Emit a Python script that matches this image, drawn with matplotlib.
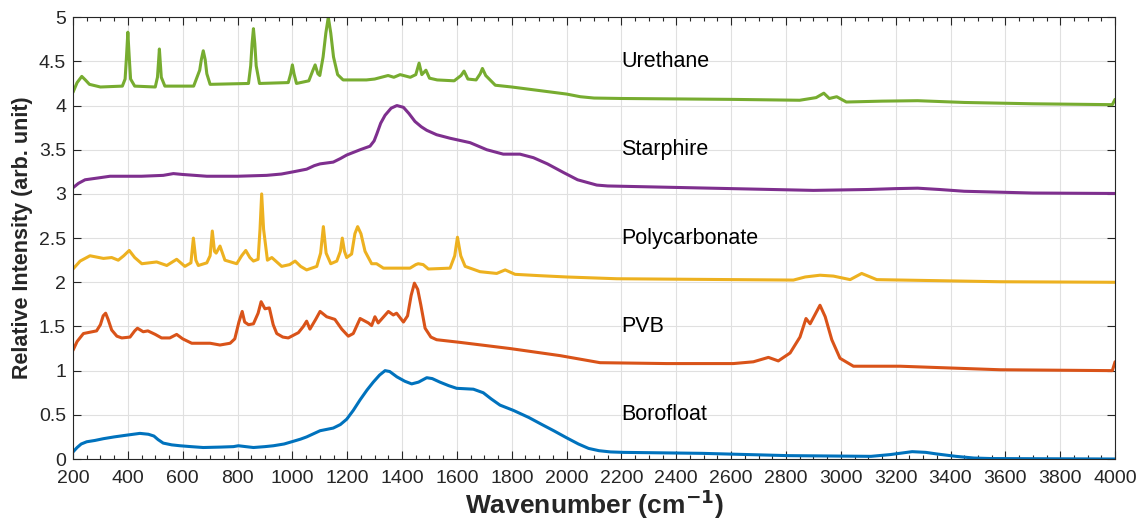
import numpy as np
import matplotlib
matplotlib.use('Agg')
import matplotlib.pyplot as plt
from matplotlib.ticker import MultipleLocator, FuncFormatter

plt.rcParams['font.family'] = ['Liberation Sans', 'DejaVu Sans']

# Espectros (numero de onda em cm-1, intensidade relativa)
boro_x = [200, 215, 230, 250, 280, 311, 350, 396, 444, 475, 495, 510, 529, 560, 590, 630, 675,
          740, 785, 803, 830, 858, 900, 931, 970, 1003, 1030, 1052, 1080, 1101, 1125, 1149, 1175,
          1198, 1222, 1247, 1272, 1295, 1318, 1338, 1355, 1381, 1410, 1435, 1460, 1490, 1510,
          1538, 1570, 1599, 1630, 1660, 1696, 1725, 1757, 1806, 1862, 1910, 1953, 2000, 2043,
          2080, 2118, 2160, 2208, 2494, 2809, 3110, 3180, 3260, 3310, 3350, 3420, 3485, 3550,
          4000]
boro_y = [0.08, 0.13, 0.17, 0.195, 0.21, 0.23, 0.25, 0.27, 0.29, 0.28, 0.26, 0.22, 0.18, 0.16,
          0.15, 0.14, 0.13, 0.135, 0.14, 0.15, 0.14, 0.13, 0.14, 0.15, 0.17, 0.20, 0.225, 0.25,
          0.29, 0.32, 0.335, 0.35, 0.39, 0.45, 0.55, 0.67, 0.78, 0.87, 0.95, 1.00, 0.99, 0.93,
          0.88, 0.85, 0.87, 0.92, 0.91, 0.87, 0.83, 0.80, 0.795, 0.79, 0.75, 0.68, 0.61, 0.55,
          0.47, 0.39, 0.32, 0.24, 0.17, 0.12, 0.094, 0.08, 0.075, 0.064, 0.038, 0.03, 0.05, 0.083,
          0.075, 0.057, 0.03, 0.011, 0.005, 0.0]

pvb_x = [200, 215, 238, 286, 300, 310, 319, 328, 341, 360, 378, 408, 425, 435, 456, 473, 500,
         523, 553, 578, 600, 633, 700, 736, 773, 790, 805, 817, 826, 840, 858, 875, 886, 900,
         916, 930, 943, 965, 985, 1022, 1040, 1052, 1064, 1085, 1101, 1125, 1155, 1180, 1204,
         1222, 1247, 1277, 1289, 1301, 1313, 1350, 1368, 1380, 1405, 1420, 1433, 1445, 1457,
         1468, 1484, 1505, 1526, 1611, 1794, 1976, 2122, 2365, 2608, 2681, 2736, 2772, 2815,
         2851, 2873, 2888, 2924, 2943, 2967, 2997, 3046, 3216, 3581, 3990, 4000]
pvb_y = [1.23, 1.33, 1.42, 1.45, 1.52, 1.62, 1.65, 1.58, 1.46, 1.39, 1.37, 1.38, 1.45, 1.48,
         1.44, 1.45, 1.41, 1.37, 1.37, 1.41, 1.36, 1.31, 1.31, 1.29, 1.31, 1.36, 1.55, 1.67,
         1.55, 1.52, 1.53, 1.65, 1.78, 1.70, 1.71, 1.52, 1.42, 1.38, 1.37, 1.43, 1.50, 1.56,
         1.47, 1.58, 1.67, 1.61, 1.58, 1.47, 1.39, 1.42, 1.59, 1.54, 1.51, 1.61, 1.54, 1.67,
         1.63, 1.65, 1.55, 1.62, 1.85, 1.99, 1.92, 1.75, 1.48, 1.38, 1.35, 1.32, 1.25, 1.17,
         1.09, 1.08, 1.08, 1.10, 1.15, 1.11, 1.20, 1.38, 1.59, 1.53, 1.74, 1.61, 1.35, 1.14,
         1.05, 1.05, 1.01, 1.00, 1.10]

poly_x = [200, 226, 262, 311, 341, 365, 385, 405, 425, 451, 505, 542, 578, 608, 630, 639, 648,
          657, 688, 700, 708, 716, 722, 736, 754, 797, 815, 830, 845, 858, 875, 882, 888, 895,
          909, 925, 961, 990, 1010, 1030, 1052, 1089, 1103, 1113, 1123, 1140, 1162, 1175, 1182,
          1190, 1198, 1216, 1228, 1238, 1250, 1265, 1289, 1307, 1332, 1429, 1450, 1459, 1477,
          1496, 1575, 1592, 1602, 1614, 1630, 1684, 1745, 1776, 1812, 1900, 2000, 2183, 2827,
          2870, 2924, 2973, 3034, 3076, 3131, 3581, 4000]
poly_y = [2.15, 2.24, 2.30, 2.27, 2.28, 2.25, 2.30, 2.36, 2.28, 2.21, 2.23, 2.19, 2.26, 2.18,
          2.22, 2.50, 2.25, 2.19, 2.22, 2.30, 2.58, 2.35, 2.33, 2.41, 2.25, 2.21, 2.30, 2.36,
          2.28, 2.24, 2.26, 2.60, 3.00, 2.60, 2.25, 2.28, 2.18, 2.20, 2.24, 2.18, 2.14, 2.18,
          2.33, 2.63, 2.33, 2.21, 2.24, 2.35, 2.50, 2.35, 2.28, 2.32, 2.55, 2.63, 2.55, 2.35,
          2.21, 2.21, 2.16, 2.16, 2.20, 2.21, 2.20, 2.15, 2.16, 2.30, 2.51, 2.30, 2.18, 2.12,
          2.10, 2.14, 2.09, 2.075, 2.06, 2.04, 2.025, 2.06, 2.08, 2.07, 2.03, 2.10, 2.03, 2.006,
          2.0]

star_x = [200, 220, 244, 290, 335, 450, 529, 566, 600, 688, 800, 906, 960, 1003, 1052, 1080,
          1101, 1149, 1175, 1198, 1247, 1283, 1298, 1308, 1322, 1338, 1360, 1381, 1405, 1425,
          1447, 1470, 1490, 1526, 1575, 1648, 1709, 1769, 1830, 1879, 1930, 1990, 2040, 2075,
          2110, 2150, 2300, 2600, 2900, 3100, 3200, 3280, 3360, 3450, 3700, 4000]
star_y = [3.07, 3.12, 3.16, 3.18, 3.20, 3.20, 3.21, 3.23, 3.22, 3.20, 3.20, 3.21, 3.225, 3.25,
          3.28, 3.32, 3.34, 3.36, 3.40, 3.44, 3.50, 3.54, 3.60, 3.68, 3.80, 3.89, 3.97, 4.00,
          3.98, 3.91, 3.82, 3.76, 3.72, 3.67, 3.63, 3.58, 3.50, 3.45, 3.45, 3.41, 3.34, 3.24,
          3.16, 3.13, 3.10, 3.09, 3.08, 3.06, 3.04, 3.05, 3.06, 3.065, 3.05, 3.03, 3.01, 3.005]

ure_x = [200, 215, 232, 245, 260, 300, 380, 390, 395, 400, 405, 410, 425, 500, 508, 512, 515,
         518, 522, 535, 640, 662, 668, 675, 682, 688, 700, 840, 848, 853, 858, 863, 868, 880,
         985, 994, 1000, 1006, 1015, 1060, 1075, 1083, 1093, 1100, 1112, 1122, 1131, 1140, 1150,
         1165, 1185, 1270, 1300, 1349, 1370, 1393, 1430, 1450, 1462, 1472, 1487, 1500, 1528,
         1590, 1615, 1626, 1640, 1670, 1685, 1693, 1705, 1740, 1800, 1900, 2000, 2050, 2100,
         2200, 2600, 2850, 2910, 2938, 2958, 2985, 3020, 3150, 3280, 3450, 3700, 3990, 4000]
ure_y = [4.15, 4.26, 4.33, 4.29, 4.24, 4.21, 4.22, 4.30, 4.55, 4.83, 4.55, 4.30, 4.22, 4.21,
         4.32, 4.50, 4.64, 4.50, 4.32, 4.22, 4.22, 4.40, 4.52, 4.62, 4.52, 4.36, 4.24, 4.25,
         4.45, 4.70, 4.87, 4.70, 4.45, 4.25, 4.26, 4.36, 4.46, 4.36, 4.25, 4.28, 4.40, 4.46,
         4.36, 4.34, 4.55, 4.82, 5.00, 4.82, 4.55, 4.35, 4.29, 4.29, 4.30, 4.34, 4.32, 4.35,
         4.32, 4.35, 4.48, 4.35, 4.40, 4.31, 4.29, 4.28, 4.34, 4.39, 4.30, 4.29, 4.36, 4.42,
         4.34, 4.23, 4.21, 4.17, 4.13, 4.10, 4.085, 4.08, 4.07, 4.06, 4.09, 4.14, 4.08, 4.10,
         4.04, 4.05, 4.055, 4.035, 4.02, 4.01, 4.07]

nomes = ['Borofloat', 'PVB', 'Polycarbonate', 'Starphire', 'Urethane']
cores = ['#0072BD', '#D95319', '#EDB120', '#7E2F8E', '#77AC30']
nome_y = [0.5, 1.5, 2.5, 3.5, 4.5]

series = [(boro_x, boro_y), (pvb_x, pvb_y), (poly_x, poly_y), (star_x, star_y), (ure_x, ure_y)]

fig = plt.figure(figsize=(11.46, 5.21), dpi=100)
ax = fig.add_axes([0.0637, 0.119, 0.9093, 0.848])

for (xs, ys), cor in zip(series, cores):
    ax.plot(xs, ys, color=cor, linewidth=2.2, solid_joinstyle='round', solid_capstyle='round')

for nome, yy in zip(nomes, nome_y):
    ax.text(2200, yy, nome, fontsize=15.5, color='black', va='center', ha='left')

ax.set_xlim(200, 4000)
ax.set_ylim(0, 5)
ax.xaxis.set_major_locator(MultipleLocator(200))
ax.xaxis.set_minor_locator(MultipleLocator(50))
ax.yaxis.set_major_locator(MultipleLocator(0.5))
ax.yaxis.set_major_formatter(FuncFormatter(lambda v, p: f'{v:g}'))

ax.grid(True, which='major', color='#e0e0e0', linewidth=0.8)
ax.set_axisbelow(True)
ax.tick_params(which='both', direction='in', top=True, right=True, colors='#262626',
               labelsize=14, labelcolor='#262626')
ax.tick_params(which='major', length=6, width=0.8)
ax.tick_params(which='minor', length=3, width=0.8)
ax.tick_params(axis='x', pad=8)
ax.tick_params(axis='y', pad=5)
for s in ax.spines.values():
    s.set_color('#262626')
    s.set_linewidth(0.8)

ax.set_xlabel('Wavenumber (cm$^{\\mathbf{-1}}$)', fontsize=19, fontweight='bold',
              color='#262626', labelpad=0)
ax.set_ylabel('Relative Intensity (arb. unit)', fontsize=15.5, fontweight='bold',
              color='#262626', labelpad=4)

fig.savefig('out.png', dpi=100)
